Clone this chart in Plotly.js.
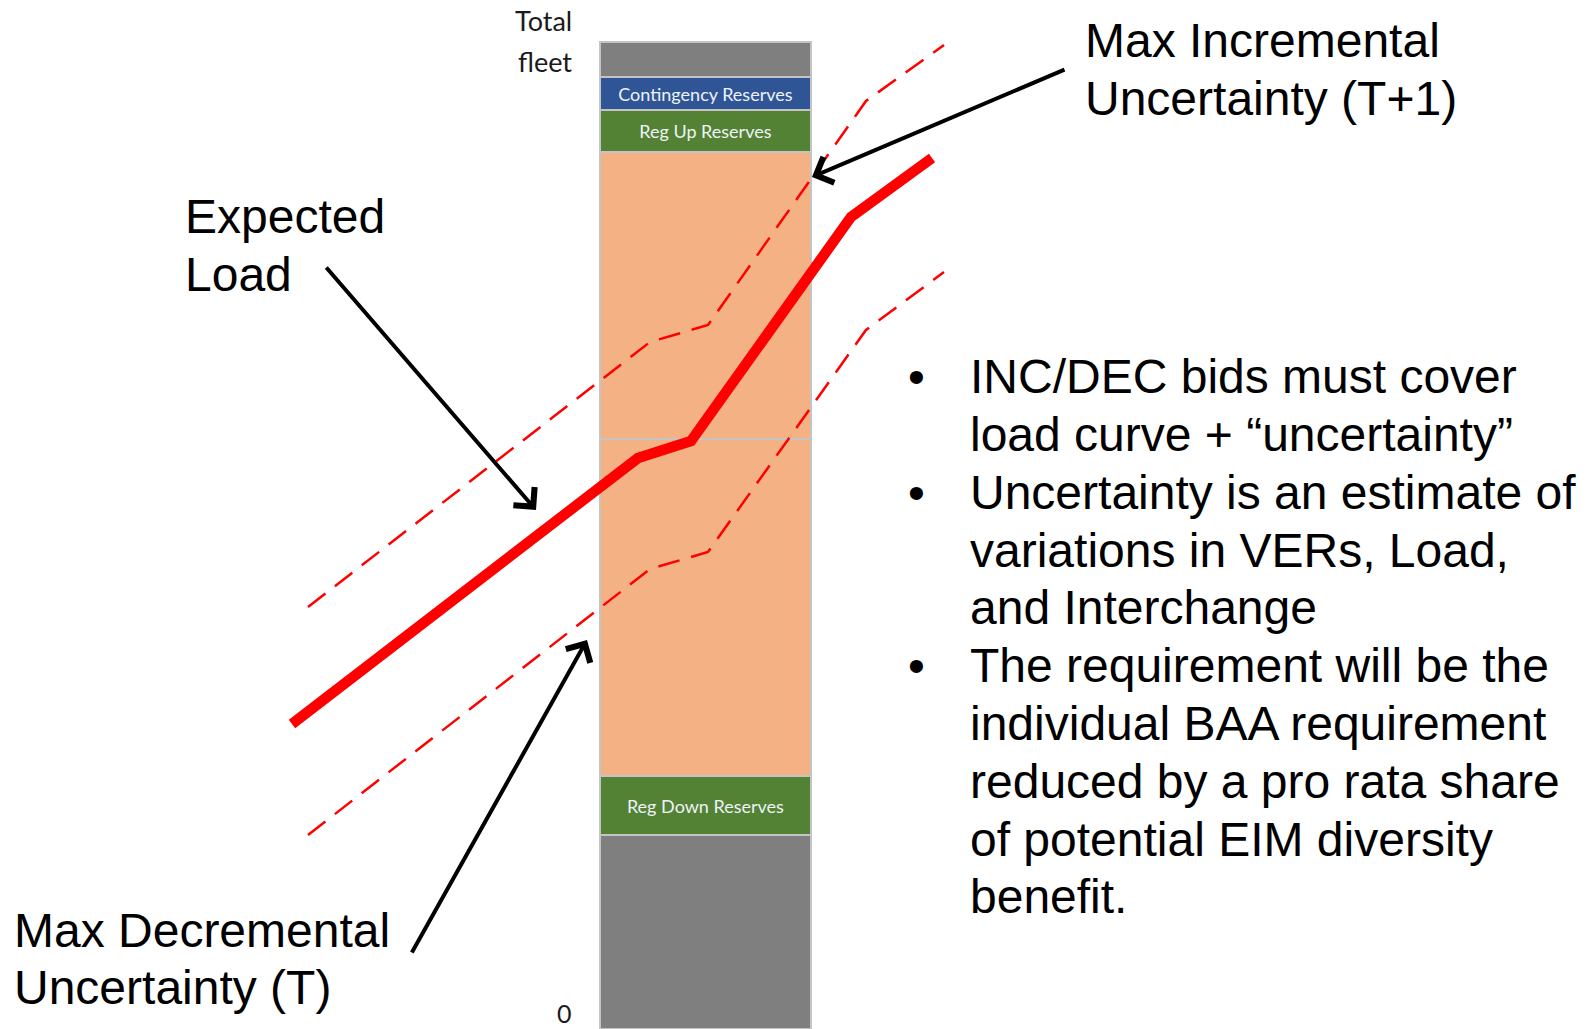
<!DOCTYPE html>
<html><head><meta charset="utf-8">
<script src="https://cdn.plot.ly/plotly-3.0.1.min.js"></script>
<style>html,body{margin:0;padding:0;background:#fff;overflow:hidden}#chart{width:1592px;height:1029px;}</style>
</head><body><div id="chart"></div>
<script>
// ---- Capacity stack (schematic units, bottom to top) ----
const stackNames  = ['Fleet below Reg Down', 'Reg Down Reserves', 'Load (lower)', 'Load (upper)', 'Reg Up Reserves', 'Contingency Reserves', 'Remaining fleet'];
const stackValues = [194, 59, 337, 287, 42, 33, 35];
const stackLabels = ['', 'Reg Down Reserves', '', '', 'Reg Up Reserves', 'Contingency Reserves', ''];

// ---- Expected load and uncertainty bands ----
const loadX = [292, 638, 691, 851, 932];
const loadY = [305, 571, 588, 812, 871];
const incX  = [308, 650, 708, 866, 944];
const incY  = [422, 687, 704, 928, 984];
const decX  = [308, 650, 708, 866, 944];
const decY  = [194, 460, 477, 699, 757];

// ---- Text ----
const bulletLines = [
  'INC/DEC bids must cover',
  'load curve + \u201cuncertainty\u201d',
  'Uncertainty is an estimate of',
  'variations in VERs, Load,',
  'and Interchange',
  'The requirement will be the',
  'individual BAA requirement',
  'reduced by a pro rata share',
  'of potential EIM diversity',
  'benefit.'
];
const bulletStart = [true, false, true, false, false, true, false, false, false, false];
const labelIncremental = ['Max Incremental', 'Uncertainty (T+1)'];
const labelExpected = ['Expected', 'Load'];
const labelDecremental = ['Max Decremental', 'Uncertainty (T)'];
const axisTop = ['Total', 'fleet'];
const axisBottom = '0';

// ---- styling / layout ----
const H = 1029, W = 1592;
const Y = py => H - py;          // convert a screen offset from the top to axis units
const segColors = ['#7f7f7f', '#548235', '#f4b183', '#f4b183', '#548235', '#2f5597', '#7f7f7f'];
const barCenter = 705.5, barW = 211;
const mainFont = {family: '"Liberation Sans", Arial, sans-serif', size: 48, color: '#000'};
const smallFont = {family: 'Lato, "Liberation Sans Narrow", sans-serif', size: 27, color: '#1a1a1a'};

const traces = [];
stackNames.forEach((n, i) => {
  traces.push({
    type: 'bar', name: n, x: [barCenter], y: [stackValues[i]], width: [barW],
    marker: {color: segColors[i], line: {color: '#c4c4c4', width: 2}},
    text: [stackLabels[i]], textposition: 'inside', insidetextanchor: 'middle',
    textfont: {family: 'Lato, sans-serif', size: 18, color: '#eef2f8'},
    constraintext: 'none', hoverinfo: 'skip', showlegend: false
  });
});
traces.push({type: 'scatter', mode: 'lines', x: incX, y: incY, name: 'Max Incremental Uncertainty',
  line: {color: '#ff0000', width: 2.5, dash: '22px,12px'}, hoverinfo: 'skip'});
traces.push({type: 'scatter', mode: 'lines', x: decX, y: decY, name: 'Max Decremental Uncertainty',
  line: {color: '#ff0000', width: 2.5, dash: '22px,12px'}, hoverinfo: 'skip'});
traces.push({type: 'scatter', mode: 'lines', x: loadX, y: loadY, name: 'Expected Load',
  line: {color: '#ff0000', width: 10.5}, hoverinfo: 'skip'});

const ann = [];
function textLine(t, x, py, font, anchor) {
  ann.push({text: t, x: x, y: Y(py), xref: 'x', yref: 'y', showarrow: false,
    xanchor: anchor || 'left', yanchor: 'middle', font: font});
}
// bullet text
const bulletTop = 376.7, bulletStep = 57.8;
bulletLines.forEach((t, i) => {
  const py = bulletTop + i * bulletStep;
  textLine(t, 968, py, mainFont);
  if (bulletStart[i]) textLine('\u2022', 906, py, mainFont);
});
labelIncremental.forEach((t, i) => textLine(t, 1083, 40.6 + i * 57.9, mainFont));
labelExpected.forEach((t, i) => textLine(t, 183, 216.3 + i * 57.8, mainFont));
labelDecremental.forEach((t, i) => textLine(t, 12, 930 + i * 57.9, mainFont));
axisTop.forEach((t, i) => textLine(t, 574, 20.5 + i * 40.5, smallFont, 'right'));
textLine(axisBottom, 574, 1013, Object.assign({}, smallFont, {size: 25}), 'right');

// arrows (tip at x,y ; tail at ax,ay)
const arrows = [
  {x: 812, y: 852, ax: 1066, ay: 960},
  {x: 536, y: 519, ax: 325, ay: 763},
  {x: 587, y: 389, ax: 411, ay: 75}
];
arrows.forEach(a => ann.push({text: '', x: a.x, y: a.y, ax: a.ax, ay: a.ay, xref: 'x', yref: 'y',
  axref: 'x', ayref: 'y', showarrow: true, arrowhead: 4, arrowsize: 1.35, arrowwidth: 4,
  arrowcolor: '#000', standoff: 0}));

const layout = {
  width: W, height: H, margin: {l: 0, r: 0, t: 0, b: 0, pad: 0},
  paper_bgcolor: '#fff', plot_bgcolor: '#fff', barmode: 'stack', showlegend: false,
  xaxis: {range: [0, W], visible: false, fixedrange: true},
  yaxis: {range: [0, H], visible: false, fixedrange: true},
  annotations: ann
};
Plotly.newPlot('chart', traces, layout, {displayModeBar: false, staticPlot: true});
</script></body></html>
